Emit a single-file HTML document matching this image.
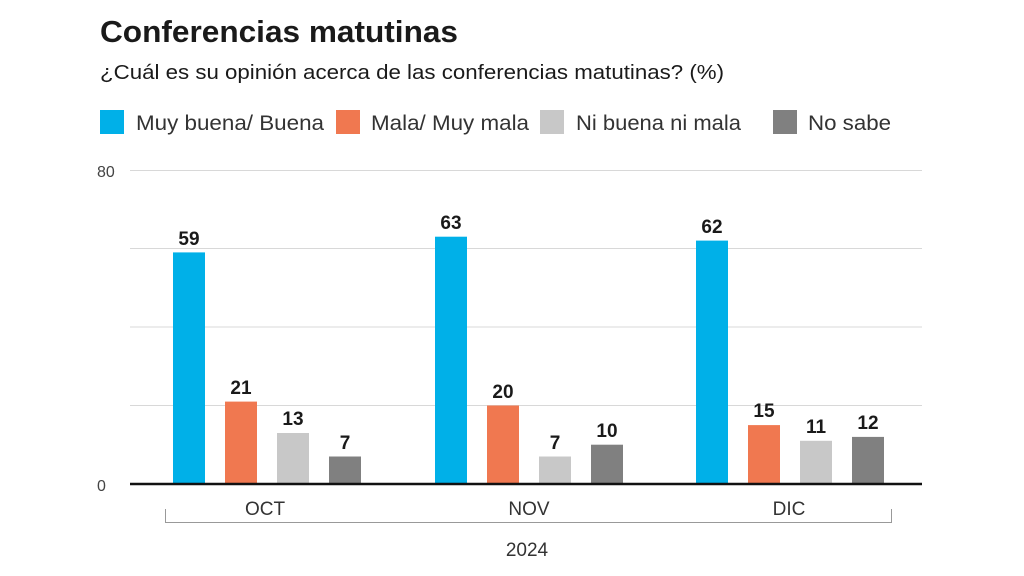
<!DOCTYPE html>
<html><head><meta charset="utf-8"><style>
html,body{margin:0;padding:0;background:#fff;width:1024px;height:576px;overflow:hidden}
svg{display:block;font-family:"Liberation Sans",sans-serif}
</style></head><body>
<svg width="1024" height="576" viewBox="0 0 1024 576">
<text x="100" y="42" font-size="31" font-weight="bold" fill="#1a1a1a" textLength="358" lengthAdjust="spacingAndGlyphs">Conferencias matutinas</text>
<text x="100" y="79" font-size="20" fill="#1a1a1a" textLength="624" lengthAdjust="spacingAndGlyphs">¿Cuál es su opinión acerca de las conferencias matutinas? (%)</text>
<g font-size="21" fill="#333">
<rect x="100" y="110" width="24" height="24" fill="#00b0e8"/><text x="136" y="130" textLength="188" lengthAdjust="spacingAndGlyphs">Muy buena/ Buena</text>
<rect x="336" y="110" width="24" height="24" fill="#f07850"/><text x="371" y="130" textLength="158" lengthAdjust="spacingAndGlyphs">Mala/ Muy mala</text>
<rect x="540" y="110" width="24" height="24" fill="#c8c8c8"/><text x="576" y="130" textLength="165" lengthAdjust="spacingAndGlyphs">Ni buena ni mala</text>
<rect x="773" y="110" width="24" height="24" fill="#808080"/><text x="808" y="130" textLength="83" lengthAdjust="spacingAndGlyphs">No sabe</text>
</g>
<g stroke="#d8d8d8" stroke-width="1">
<line x1="130" x2="922" y1="170.5" y2="170.5"/><line x1="130" x2="922" y1="248.5" y2="248.5"/>
<line x1="130" x2="922" y1="327" y2="327"/><line x1="130" x2="922" y1="405.5" y2="405.5"/>
</g>
<g font-size="16" fill="#444"><text x="97" y="177">80</text><text x="97" y="491">0</text></g>
<g id="bars">
<rect x="173" y="252.4" width="32" height="231.6" fill="#00b0e8"/>
<rect x="225" y="401.6" width="32" height="82.4" fill="#f07850"/>
<rect x="277" y="433" width="32" height="51" fill="#c8c8c8"/>
<rect x="329" y="456.5" width="32" height="27.5" fill="#808080"/>
<rect x="435" y="236.7" width="32" height="247.3" fill="#00b0e8"/>
<rect x="487" y="405.5" width="32" height="78.5" fill="#f07850"/>
<rect x="539" y="456.5" width="32" height="27.5" fill="#c8c8c8"/>
<rect x="591" y="444.7" width="32" height="39.3" fill="#808080"/>
<rect x="696" y="240.6" width="32" height="243.4" fill="#00b0e8"/>
<rect x="748" y="425.1" width="32" height="58.9" fill="#f07850"/>
<rect x="800" y="440.8" width="32" height="43.2" fill="#c8c8c8"/>
<rect x="852" y="436.9" width="32" height="47.1" fill="#808080"/>
</g>
<g font-size="19" font-weight="bold" fill="#1a1a1a" text-anchor="middle">
<text x="189" y="245">59</text><text x="241" y="394">21</text><text x="293" y="425">13</text><text x="345" y="449">7</text>
<text x="451" y="229">63</text><text x="503" y="398">20</text><text x="555" y="449">7</text><text x="607" y="437">10</text>
<text x="712" y="233">62</text><text x="764" y="417">15</text><text x="816" y="433">11</text><text x="868" y="429">12</text>
</g>
<line x1="130" x2="922" y1="484" y2="484" stroke="#111" stroke-width="2.5"/>
<g font-size="19" fill="#333" text-anchor="middle">
<text x="265" y="515">OCT</text><text x="529" y="515">NOV</text><text x="789" y="515">DIC</text>
<text x="527" y="556">2024</text>
</g>
<path d="M165.5 509V522.5H891.5V509" fill="none" stroke="#999" stroke-width="1"/>
</svg>
</body></html>
